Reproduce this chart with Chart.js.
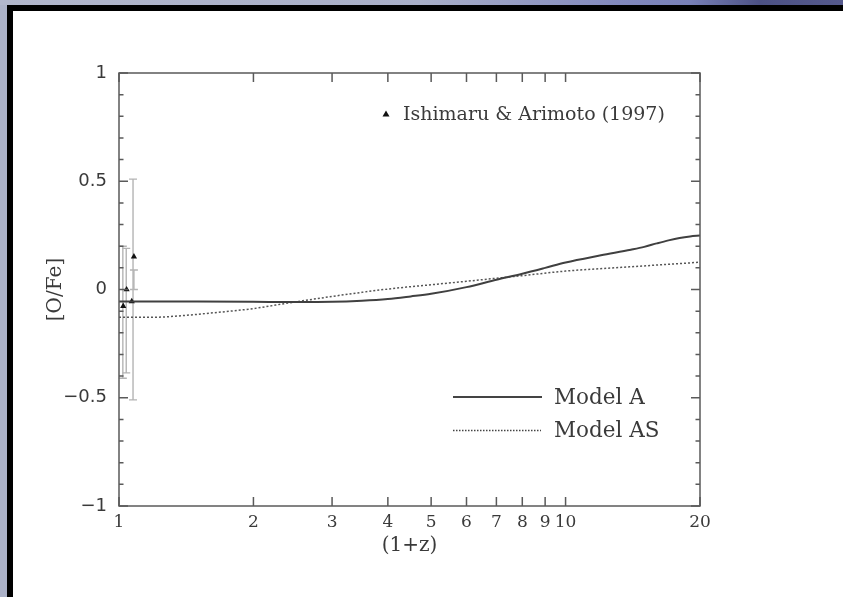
<!DOCTYPE html>
<html>
<head>
<meta charset="utf-8">
<title>[O/Fe] vs (1+z)</title>
<script src="https://cdn.jsdelivr.net/npm/chart.js@4.4.1/dist/chart.umd.min.js"></script>
<style>
  html, body { margin: 0; padding: 0; }
  body { width: 843px; height: 597px; overflow: hidden; position: relative; background: #acb2c8; }
  #band {
    position: absolute; left: 0; top: 0; width: 843px; height: 5px;
    background: linear-gradient(to right, #b2b7cc 0, #a9afc8 420px, #8289bd 620px, #7880b7 690px, #4c5185 760px, #565a8e 843px);
  }
  #panel {
    position: absolute; left: 7px; top: 5px; width: 836px; height: 592px; box-sizing: border-box;
    border-top: 6px solid #000; border-left: 6px solid #000; background: #fff;
  }
  #chart { position: absolute; left: 0; top: 0; }
</style>
</head>
<body>
<div id="band"></div>
<div id="panel"></div>
<canvas id="chart" width="843" height="597"></canvas>
<script>
// Model A (solid)
const modelAX = [1, 1.5, 2, 2.5, 3, 3.5, 4, 4.5, 5, 6, 7, 8, 9, 10, 12, 14, 15, 16, 17, 18, 19, 20];
const modelAY = [-0.055, -0.056, -0.057, -0.058, -0.057, -0.052, -0.044, -0.032, -0.02, 0.011, 0.045, 0.073, 0.1, 0.125, 0.158, 0.184, 0.197, 0.213, 0.227, 0.238, 0.245, 0.249];

// Model AS (dotted)
const modelASX = [1, 1.2, 1.4, 1.6, 2, 2.4, 3, 3.5, 4, 4.5, 5, 6, 7, 8, 10, 14, 20];
const modelASY = [-0.128, -0.128, -0.12, -0.109, -0.088, -0.062, -0.032, -0.013, 0.002, 0.013, 0.022, 0.038, 0.052, 0.064, 0.085, 0.105, 0.126];

// Ishimaru & Arimoto (1997) points
const obsX = [1.022, 1.040, 1.080, 1.068];
const obsY = [-0.077, 0.0, 0.152, -0.055];

// error bars as drawn
const errX  = [1.020, 1.038, 1.075, 1.080];
const errLo = [-0.41, -0.385, -0.51, 0.0];
const errHi = [0.20, 0.19, 0.51, 0.09];

// axes
const xTickValues = [1, 2, 3, 4, 5, 6, 7, 8, 9, 10, 20];
const yTickValues = [-1, -0.5, 0, 0.5, 1];
const yMinorTicks = [-0.9, -0.8, -0.7, -0.6, -0.4, -0.3, -0.2, -0.1, 0.1, 0.2, 0.3, 0.4, 0.6, 0.7, 0.8, 0.9];

const inkColor = '#3a3a3a';
const frameColor = '#5a5a5a';

const toPoints = (xs, ys) => xs.map((x, i) => ({ x: x, y: ys[i] }));

const fmtY = v => v < 0 ? '\u2212' + Math.abs(v) : String(v);

const frameTicks = {
  id: 'frameTicks',
  beforeDatasetsDraw(chart) {
    const { ctx } = chart;
    const xs = chart.scales.x, ys = chart.scales.y;
    ctx.save();
    ctx.strokeStyle = '#b4b4b4';
    ctx.lineWidth = 1.4;
    errX.forEach((x, i) => {
      const px = xs.getPixelForValue(x);
      const lo = ys.getPixelForValue(errLo[i]);
      const hi = ys.getPixelForValue(errHi[i]);
      ctx.beginPath();
      ctx.moveTo(px, lo); ctx.lineTo(px, hi);
      ctx.moveTo(px - 4, lo); ctx.lineTo(px + 4, lo);
      ctx.moveTo(px - 4, hi); ctx.lineTo(px + 4, hi);
      ctx.stroke();
    });
    ctx.restore();
  },
  afterDatasetsDraw(chart) {
    const { ctx, chartArea: a } = chart;
    const xs = chart.scales.x, ys = chart.scales.y;
    ctx.save();
    ctx.strokeStyle = frameColor;
    ctx.lineWidth = 1.5;
    ctx.strokeRect(a.left, a.top, a.right - a.left, a.bottom - a.top);

    ctx.beginPath();
    xTickValues.forEach(v => {
      const px = xs.getPixelForValue(v);
      ctx.moveTo(px, a.bottom); ctx.lineTo(px, a.bottom - 9);
      ctx.moveTo(px, a.top); ctx.lineTo(px, a.top + 9);
    });
    yTickValues.forEach(v => {
      const py = ys.getPixelForValue(v);
      ctx.moveTo(a.left, py); ctx.lineTo(a.left + 9, py);
      ctx.moveTo(a.right, py); ctx.lineTo(a.right - 9, py);
    });
    yMinorTicks.forEach(v => {
      const py = ys.getPixelForValue(v);
      ctx.moveTo(a.left, py); ctx.lineTo(a.left + 4.5, py);
      ctx.moveTo(a.right, py); ctx.lineTo(a.right - 4.5, py);
    });
    ctx.stroke();

    // legend
    ctx.fillStyle = '#111';
    ctx.beginPath();
    ctx.moveTo(386, 110.5); ctx.lineTo(389.5, 116.5); ctx.lineTo(382.5, 116.5);
    ctx.closePath();
    ctx.fill();

    ctx.fillStyle = inkColor;
    ctx.textBaseline = 'middle';
    ctx.textAlign = 'left';
    ctx.font = '19px "DejaVu Serif"';
    ctx.fillText('Ishimaru & Arimoto (1997)', 403, 115);

    ctx.font = '21.5px "DejaVu Serif"';
    ctx.fillText('Model A', 554, 398);
    ctx.fillText('Model AS', 554, 431);

    ctx.strokeStyle = '#444';
    ctx.lineWidth = 2;
    ctx.beginPath(); ctx.moveTo(453, 397); ctx.lineTo(542, 397); ctx.stroke();
    ctx.lineWidth = 1.3;
    ctx.setLineDash([1.5, 1.5]);
    ctx.beginPath(); ctx.moveTo(453, 430.5); ctx.lineTo(541, 430.5); ctx.stroke();
    ctx.restore();
  }
};

new Chart(document.getElementById('chart'), {
  type: 'scatter',
  data: {
    datasets: [
      {
        label: 'Model A',
        data: toPoints(modelAX, modelAY),
        showLine: true,
        borderColor: '#404040',
        borderWidth: 2,
        pointRadius: 0,
        cubicInterpolationMode: 'monotone'
      },
      {
        label: 'Model AS',
        data: toPoints(modelASX, modelASY),
        showLine: true,
        borderColor: '#555',
        borderWidth: 1.5,
        borderDash: [2, 2],
        pointRadius: 0,
        cubicInterpolationMode: 'monotone'
      },
      {
        label: 'Ishimaru & Arimoto (1997)',
        data: toPoints(obsX, obsY),
        showLine: false,
        pointStyle: 'triangle',
        pointRadius: 3.6,
        backgroundColor: '#111',
        borderColor: '#111',
        borderWidth: 0
      }
    ]
  },
  options: {
    responsive: false,
    devicePixelRatio: 1,
    animation: false,
    events: [],
    layout: { padding: { top: 73, right: 143, bottom: 0, left: 0 } },
    plugins: { legend: { display: false }, tooltip: { enabled: false } },
    scales: {
      x: {
        type: 'logarithmic',
        min: 1,
        max: 20,
        grid: { display: false },
        border: { display: false },
        afterBuildTicks: s => { s.ticks = xTickValues.map(v => ({ value: v })); },
        afterFit: s => { s.height = 91; },
        ticks: {
          autoSkip: false,
          maxRotation: 0,
          padding: -2,
          color: inkColor,
          font: { family: 'DejaVu Serif', size: 17 },
          callback: v => String(v)
        },
        title: {
          display: true,
          text: '(1+z)',
          color: inkColor,
          font: { family: 'DejaVu Serif', size: 20 },
          padding: { top: 0, bottom: 39 }
        }
      },
      y: {
        min: -1,
        max: 1,
        grid: { display: false },
        border: { display: false },
        afterBuildTicks: s => { s.ticks = yTickValues.map(v => ({ value: v })); },
        afterFit: s => { s.width = 119; },
        ticks: {
          padding: 4,
          color: inkColor,
          font: { family: 'DejaVu Sans', size: 18 },
          callback: v => fmtY(v)
        },
        title: {
          display: true,
          text: '[O/Fe]',
          color: inkColor,
          font: { family: 'DejaVu Serif', size: 20 },
          padding: { top: 44, bottom: 0 }
        }
      }
    }
  },
  plugins: [frameTicks]
});
</script>
</body>
</html>
